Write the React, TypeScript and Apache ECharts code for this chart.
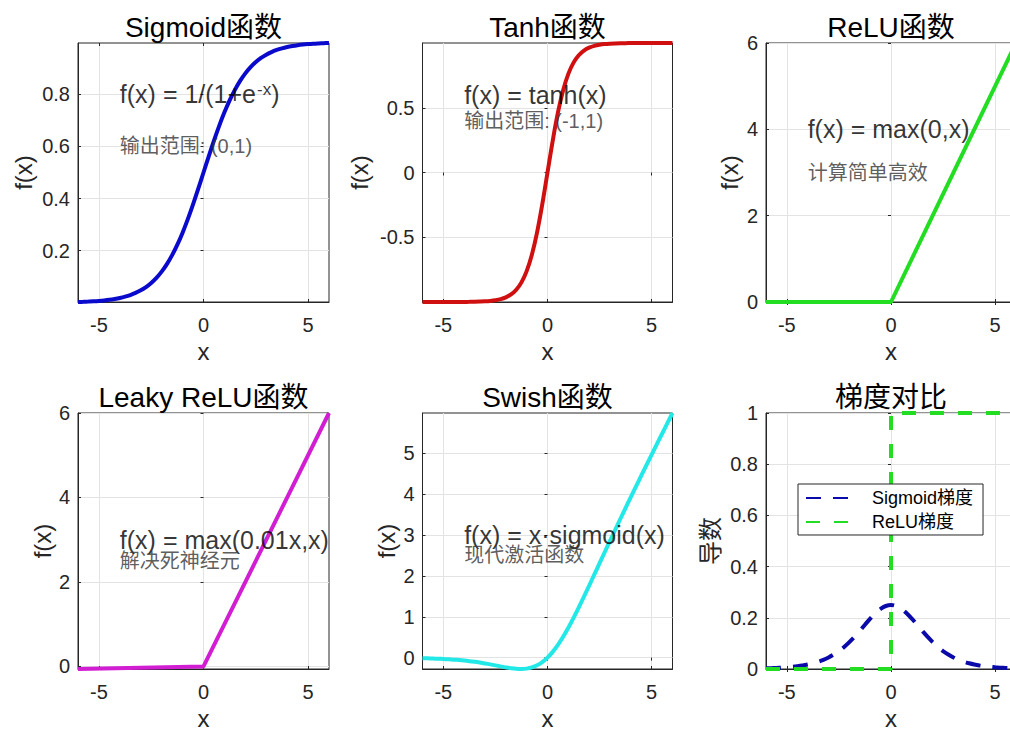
import React, { useEffect, useRef } from "react";
import * as echarts from "echarts";

// ---------------- data ----------------
const xs = [-6, -5.75, -5.5, -5.25, -5, -4.75, -4.5, -4.25, -4, -3.75, -3.5, -3.25, -3, -2.75, -2.5, -2.25, -2, -1.75, -1.5, -1.25, -1, -0.75, -0.5, -0.25, 0, 0.25, 0.5, 0.75, 1, 1.25, 1.5, 1.75, 2, 2.25, 2.5, 2.75, 3, 3.25, 3.5, 3.75, 4, 4.25, 4.5, 4.75, 5, 5.25, 5.5, 5.75, 6];

const sigmoidY = [0.0025, 0.0032, 0.0041, 0.0052, 0.0067, 0.0086, 0.011, 0.0141, 0.018, 0.023, 0.0293, 0.0373, 0.0474, 0.0601, 0.0759, 0.0953, 0.1192, 0.148, 0.1824, 0.2227, 0.2689, 0.3208, 0.3775, 0.4378, 0.5, 0.5622, 0.6225, 0.6792, 0.7311, 0.7773, 0.8176, 0.852, 0.8808, 0.9047, 0.9241, 0.9399, 0.9526, 0.9627, 0.9707, 0.977, 0.982, 0.9859, 0.989, 0.9914, 0.9933, 0.9948, 0.9959, 0.9968, 0.9975];

const tanhY = [-1, -1, -1, -1, -0.9999, -0.9999, -0.9998, -0.9996, -0.9993, -0.9989, -0.9982, -0.997, -0.9951, -0.9919, -0.9866, -0.978, -0.964, -0.9414, -0.9051, -0.8483, -0.7616, -0.6351, -0.4621, -0.2449, 0, 0.2449, 0.4621, 0.6351, 0.7616, 0.8483, 0.9051, 0.9414, 0.964, 0.978, 0.9866, 0.9919, 0.9951, 0.997, 0.9982, 0.9989, 0.9993, 0.9996, 0.9998, 0.9999, 0.9999, 1, 1, 1, 1];

const swishY = [-0.0148, -0.0183, -0.0224, -0.0274, -0.0335, -0.0408, -0.0495, -0.0598, -0.0719, -0.0862, -0.1026, -0.1213, -0.1423, -0.1652, -0.1896, -0.2145, -0.2384, -0.259, -0.2736, -0.2784, -0.2689, -0.2406, -0.1888, -0.1095, 0, 0.1405, 0.3112, 0.5094, 0.7311, 0.9716, 1.2264, 1.491, 1.7616, 2.0356, 2.3103, 2.5847, 2.8577, 3.1288, 3.3975, 3.6638, 3.9281, 4.1901, 4.4505, 4.7092, 4.9665, 5.2227, 5.4776, 5.7316, 5.9852];

const sigGradY = [0.0025, 0.0032, 0.0041, 0.0052, 0.0066, 0.0085, 0.0109, 0.0139, 0.0177, 0.0225, 0.0284, 0.0359, 0.0452, 0.0565, 0.0701, 0.0862, 0.105, 0.1261, 0.1491, 0.1731, 0.1966, 0.2179, 0.235, 0.2461, 0.25, 0.2461, 0.235, 0.2179, 0.1966, 0.1731, 0.1491, 0.1261, 0.105, 0.0862, 0.0701, 0.0565, 0.0452, 0.0359, 0.0284, 0.0225, 0.0177, 0.0139, 0.0109, 0.0085, 0.0066, 0.0052, 0.0041, 0.0032, 0.0025];

const reluXs = [-6, 0, 6];
const reluYs = [0, 0, 6];
const leakyYs = [-0.06, 0, 6];
const reluGradXs = [-6, 0, 0, 6];
const reluGradYs = [0, 0, 1, 1];

const xTicks = [-5, 0, 5];
const sigmoidTicks = [0.2, 0.4, 0.6, 0.8];
const tanhTicks = [-0.5, 0, 0.5];
const reluTicks = [0, 2, 4, 6];
const swishTicks = [0, 1, 2, 3, 4, 5];
const gradTicks = [0, 0.2, 0.4, 0.6, 0.8, 1];

const titles = ["Sigmoid函数", "Tanh函数", "ReLU函数", "Leaky ReLU函数", "Swish函数", "梯度对比"];
const yNames = ["f(x)", "f(x)", "f(x)", "f(x)", "f(x)", "导数"];
const legendNames = ["Sigmoid梯度", "ReLU梯度"];

// ---------------- styling / layout ----------------
const FONT = "'Liberation Sans', Arial, 'Noto Sans CJK SC', sans-serif";
const AXIS = "#262626";
const GRIDLINE = "#e3e3e3";

const layouts = [
  { left: 78, top: 43, width: 251, height: 259 },
  { left: 422.5, top: 43, width: 250, height: 259 },
  { left: 766, top: 43, width: 250, height: 259 },
  { left: 78, top: 413, width: 251, height: 259 },
  { left: 422.5, top: 413, width: 250, height: 259 },
  { left: 766, top: 413, width: 250, height: 259 },
];
const yNameGaps = [43, 51, 25, 23, 24, 44];

const pairs = (a: number[], b: number[]) => a.map((v, i) => [v, b[i]]);

export default function App() {
  const ref = useRef<HTMLDivElement>(null);

  useEffect(() => {
    const chart = echarts.init(ref.current!, undefined, { renderer: "svg" });

    const yRanges = [
      { min: Math.min(...sigmoidY), max: Math.max(...sigmoidY), ticks: sigmoidTicks },
      { min: Math.min(...tanhY), max: Math.max(...tanhY), ticks: tanhTicks },
      { min: 0, max: 6, ticks: reluTicks },
      { min: Math.min(...leakyYs), max: 6, ticks: reluTicks },
      { min: Math.min(...swishY), max: Math.max(...swishY), ticks: swishTicks },
      { min: 0, max: 1, ticks: gradTicks },
    ];

    const grids: any[] = [];
    const xAxes: any[] = [];
    const yAxes: any[] = [];
    const graphics: any[] = [];

    layouts.forEach((l, i) => {
      grids.push({
        ...l,
        show: true,
        borderColor: AXIS,
        borderWidth: 1,
        backgroundColor: "transparent",
        containLabel: false,
      });
      const r = yRanges[i];
      xAxes.push({
        type: "value",
        gridIndex: i,
        position: "bottom",
        min: -6,
        max: 6,
        axisLine: { show: true, onZero: false, lineStyle: { color: AXIS, width: 1 } },
        axisTick: { show: true, inside: true, length: 3, customValues: xTicks, lineStyle: { color: AXIS } },
        axisLabel: { show: true, customValues: xTicks, fontSize: 20, color: AXIS, fontFamily: FONT, margin: 13 },
        splitLine: { show: true, lineStyle: { color: GRIDLINE, width: 1 } },
        name: "x",
        nameLocation: "middle",
        nameGap: 37,
        nameTextStyle: { fontSize: 24, color: AXIS, fontFamily: FONT },
      });
      xAxes.push({
        type: "value",
        gridIndex: i,
        position: "top",
        min: -6,
        max: 6,
        axisLine: { show: false },
        axisTick: { show: true, inside: true, length: 3, customValues: xTicks, lineStyle: { color: AXIS } },
        axisLabel: { show: false },
        splitLine: { show: false },
      });
      yAxes.push({
        type: "value",
        gridIndex: i,
        position: "left",
        min: r.min,
        max: r.max,
        axisLine: { show: true, onZero: false, lineStyle: { color: AXIS, width: 1 } },
        axisTick: { show: true, inside: true, length: 3, customValues: r.ticks, lineStyle: { color: AXIS } },
        axisLabel: { show: true, customValues: r.ticks, fontSize: 20, color: AXIS, fontFamily: FONT, margin: 8 },
        splitLine: { show: true, lineStyle: { color: GRIDLINE, width: 1 } },
        name: yNames[i],
        nameLocation: "middle",
        nameGap: yNameGaps[i],
        nameTextStyle: { fontSize: 24, color: AXIS, fontFamily: FONT },
      });
      yAxes.push({
        type: "value",
        gridIndex: i,
        position: "right",
        min: r.min,
        max: r.max,
        axisLine: { show: false },
        axisTick: { show: true, inside: true, length: 3, customValues: r.ticks, lineStyle: { color: AXIS } },
        axisLabel: { show: false },
        splitLine: { show: false },
      });
      graphics.push({
        type: "text",
        x: l.left + l.width / 2,
        y: l.top - 16,
        silent: true,
        style: {
          text: titles[i],
          fontSize: 28,
          fontFamily: FONT,
          fill: "#000",
          textAlign: "center",
          textVerticalAlign: "middle",
        },
      });
    });

    const curve = (i: number, data: number[][], color: string, extra: any = {}) => ({
      type: "line",
      xAxisIndex: 2 * i,
      yAxisIndex: 2 * i,
      data,
      showSymbol: false,
      symbol: "none",
      clip: false,
      lineStyle: { color, width: 4 },
      itemStyle: { color },
      z: 3,
      ...extra,
    });

    const note = (
      i: number,
      x: number,
      y: number,
      text: string,
      size: number,
      color: string,
      lineHeight: number,
      rich?: any
    ) => ({
      type: "scatter",
      xAxisIndex: 2 * i,
      yAxisIndex: 2 * i,
      data: [[x, y]],
      symbolSize: 0,
      silent: true,
      z: 4,
      label: {
        show: true,
        position: "right",
        distance: 0,
        formatter: text,
        fontSize: size,
        lineHeight,
        color,
        fontFamily: FONT,
        rich,
      },
    });

    const series: any[] = [
      curve(0, pairs(xs, sigmoidY), "#0a0acc", { smooth: 0.4 }),
      curve(1, pairs(xs, tanhY), "#d01010", { smooth: 0.4 }),
      curve(2, pairs(reluXs, reluYs), "#22dd22"),
      curve(3, pairs(reluXs, leakyYs), "#d21ed2"),
      curve(4, pairs(xs, swishY), "#22e8e8", { smooth: 0.4 }),
      curve(5, pairs(xs, sigGradY), "#0a0aaa", {
        name: legendNames[0],
        smooth: 0.4,
        lineStyle: { color: "#0a0aaa", width: 4, type: [15, 12] },
      }),
      curve(5, pairs(reluGradXs, reluGradYs), "#22dd22", {
        name: legendNames[1],
        lineStyle: { color: "#22dd22", width: 4, type: [14, 14] },
      }),
      note(0, -4, 0.8, "{m|f(x) = 1/(1+e}{s|-x}{m|)}", 25, "#000", 26, {
        m: { fontSize: 25, color: "#000", fontFamily: FONT, lineHeight: 26 },
        s: { fontSize: 17, color: "#000", fontFamily: FONT, verticalAlign: "top", lineHeight: 17, padding: [0, 0, 0, 1] },
      }),
      note(0, -4, 0.6, "输出范围: (0,1)", 20, "#333", 22),
      note(1, -4, 0.6, "f(x) = tanh(x)", 25, "#000", 24),
      note(1, -4, 0.4, "输出范围: (-1,1)", 20, "#333", 20),
      note(2, -4, 4, "f(x) = max(0,x)", 25, "#000", 26),
      note(2, -4, 3, "计算简单高效", 20, "#333", 22),
      note(3, -4, 3, "f(x) = max(0.01x,x)", 25, "#000", 22),
      note(3, -4, 2.5, "解决死神经元", 20, "#333", 18),
      note(4, -4, 3, "f(x) = x·sigmoid(x)", 25, "#000", 22),
      note(4, -4, 2.5, "现代激活函数", 20, "#333", 18),
    ];

    chart.setOption({
      animation: false,
      backgroundColor: "#fff",
      textStyle: { fontFamily: FONT },
      grid: grids,
      xAxis: xAxes,
      yAxis: yAxes,
      series,
      graphic: graphics,
      legend: {
        data: legendNames,
        orient: "vertical",
        left: 798,
        top: 484,
        itemWidth: 47,
        itemHeight: 14,
        itemGap: 6,
        padding: [5, 10, 4, 7],
        borderColor: AXIS,
        borderWidth: 1,
        backgroundColor: "#fff",
        selectedMode: false,
        itemStyle: { opacity: 0, borderWidth: 0 },
        textStyle: { fontSize: 18, color: "#000", fontFamily: FONT, padding: [0, 0, 0, 14] },
      },
    });

    return () => chart.dispose();
  }, []);

  return (
    <div
      style={{
        position: "fixed",
        left: 0,
        top: 0,
        width: 1010,
        height: 731,
        overflow: "hidden",
        background: "#fff",
      }}
    >
      <div ref={ref} style={{ width: 1030, height: 731 }} />
    </div>
  );
}
